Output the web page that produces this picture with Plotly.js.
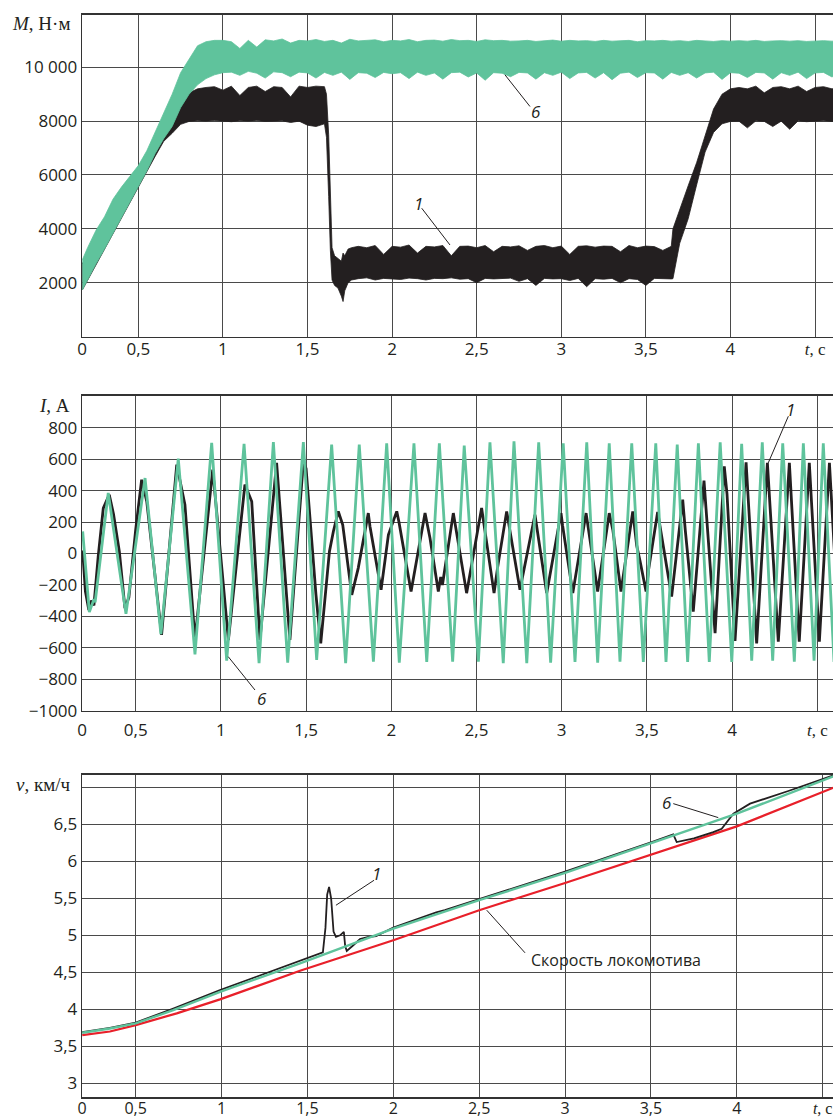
<!DOCTYPE html>
<html><head><meta charset="utf-8">
<script src="https://cdn.plot.ly/plotly-3.0.1.min.js"></script>
<style>html,body{margin:0;padding:0;background:#fff}</style>
</head><body><div id="chart" style="width:833px;height:1118px"></div>
<script>
// ---------- Panel 1: torque M, N·m (bands: lower/upper envelopes) ----------
const torqueGreenT = [0.169,0.2,0.25,0.3,0.35,0.4,0.45,0.5,0.55,0.6,0.65,0.7,0.75,0.8,0.85,0.9,0.95,1.0,
 1.05,1.1,1.15,1.2,1.25,1.3,1.35,1.4,1.45,1.5,1.55,1.6,1.65,1.7,1.75,1.8,1.85,1.9,1.95,2.0,
 2.05,2.1,2.15,2.2,2.25,2.3,2.35,2.4,2.45,2.5,2.55,2.6,2.65,2.7,2.75,2.8,2.85,2.9,2.95,3.0,
 3.05,3.1,3.15,3.2,3.25,3.3,3.35,3.4,3.45,3.5,3.55,3.6,3.65,3.7,3.75,3.8,3.85,3.9,3.95,4.0,
 4.05,4.1,4.15,4.2,4.25,4.3,4.35,4.4,4.45,4.5,4.55,4.6,4.65];
const torqueGreenUpper = [2850,3300,3950,4450,5100,5550,5950,6350,6900,7600,8300,9000,9800,10300,10800,10950,11000,11000,
 10950,10700,11000,10750,11020,10980,11050,10900,11000,10980,
 11030,10960,11000,10900,11040,10980,11000,11020,10950,11000,
 10980,11030,10950,11000,11010,10970,11030,10990,11000,10960,
 11020,10990,11000,10970,10980,11000,10960,10990,11010,10970,
 11000,10980,10990,10960,11000,10970,10990,11000,10950,10990,
 10980,11000,10970,10990,10960,11000,10980,10960,10990,10970,
 10990,10970,11000,10960,10980,10990,10970,10990,10960,10980,
 10990,10970,10980];
const torqueGreenLower = [1729,2100,2700,3250,3830,4420,5000,5560,6150,6800,7350,7800,8500,9000,9350,9580,9720,9800,
 9820,9700,9850,9780,9600,9830,9800,9650,9820,9790,
 9600,9810,9700,9820,9550,9800,9780,9620,9810,9760,
 9800,9580,9820,9700,9790,9560,9800,9820,9640,9790,
 9520,9800,9780,9650,9810,9790,9560,9800,9700,9820,
 9580,9790,9810,9600,9800,9540,9780,9820,9620,9800,
 9790,9560,9810,9700,9800,9600,9790,9820,9550,9800,
 9780,9620,9810,9790,9560,9800,9700,9820,9580,9790,
 9810,9640,9800];

const torqueBlackT = [0.169,0.2,0.25,0.3,0.35,0.4,0.45,0.5,0.55,0.6,0.65,0.7,0.75,0.8,
 0.85,0.9,0.95,1.0,1.05,1.1,1.15,1.2,1.25,1.3,1.35,1.4,1.45,1.5,1.55,1.6,
 1.612,1.625,1.635,1.645,1.66,1.68,1.7,1.71,1.72,1.74,1.76,
 1.8,1.85,1.9,1.95,2.0,2.05,2.1,2.15,2.2,2.25,2.3,2.35,2.4,2.45,2.5,2.55,2.6,2.65,2.7,2.75,
 2.8,2.85,2.9,2.95,3.0,3.05,3.1,3.15,3.2,3.25,3.3,3.35,3.4,3.45,3.5,3.55,3.6,3.65,
 3.66,3.7,3.75,3.8,3.85,3.9,3.95,4.0,
 4.05,4.1,4.15,4.2,4.25,4.3,4.35,4.4,4.45,4.5,4.55,4.6,4.65];
const torqueBlackLower = [1729,2088,2666,3245,3823,4401,4980,5558,6130,6700,7250,7550,7880,7990,
 8010,8000,8020,8000,7980,8010,8000,8020,7990,8000,8010,7950,8000,7850,7800,7900,
 7400,5200,3200,2100,1900,1800,1500,1300,1700,2000,2100,
 2150,2180,2100,2160,2150,2120,2170,2150,2100,2160,
 2150,2180,2130,2150,2000,2160,2140,2150,2170,2050,
 2150,1900,2160,2140,2150,2080,2160,1850,2150,2130,
 2160,2000,2150,2120,1900,2160,2150,2140,
 2150,3465,4375,5630,6850,7580,7900,7990,
 8000,7750,8010,7990,7800,8000,7700,8010,7980,8000,8010,7990,8000];
const torqueBlackUpper = [2700,3100,3650,4150,4800,5250,5650,6050,6600,7300,8000,8650,8900,9050,
 9200,9250,9280,9150,9300,8950,9250,9300,9100,9280,9250,8900,9300,9250,9300,9280,
 9000,7500,5000,3300,3000,2900,2800,3100,3000,3250,3300,
 3350,3300,3380,3050,3350,3320,3400,3100,3350,3330,
 3380,3000,3350,3360,3300,3380,3150,3350,3330,3370,
 3200,3350,3380,3300,3360,3050,3350,3370,3320,3360,
 3350,3150,3380,3300,3360,3340,3200,3350,
 4000,4740,5600,6460,7430,8450,9000,9200,
 9250,9200,9300,9050,9250,9280,9200,9300,9100,9250,9280,9200,9250];

// ---------- Panel 2: current I, A (turning points) ----------
const currentGreenT = [0.189,0.228,0.255,0.262,0.339,0.443,0.555,0.648,0.750,0.848,0.946,1.034,1.136,1.224,1.308,1.392,1.484,
 1.562,1.650,1.732,1.812,1.895,1.973,2.047,2.133,2.208,2.282,2.360,2.428,2.511,2.579,2.657,2.720,2.795,2.865,2.935,3.009,
 3.078,3.147,3.211,3.279,3.342,3.411,3.479,3.552,3.612,3.678,3.739,3.802,3.866,3.930,3.998,4.056,4.115,4.177,4.238,4.297,
 4.365,4.418,4.481,4.535,4.598];
const currentGreen = [140,-373,-290,-310,385,-384,480,-513,603,-641,703,-681,697,-698,709,-694,709,
 -677,692,-698,692,-688,700,-694,700,-690,700,-688,686,-688,707,-698,714,-698,707,-694,700,
 -690,707,-694,700,-688,700,-690,700,-690,692,-690,700,-690,707,-690,697,-681,707,-681,700,
 -688,700,-681,700,-690];
const currentBlackT = [0.189,0.205,0.225,0.24,0.255,0.28,0.31,0.345,0.37,0.404,0.437,0.46,0.50,0.535,0.565,0.652,0.741,0.789,
 0.848,0.952,0.975,1.044,1.141,1.181,1.229,1.327,1.405,1.484,1.50,1.558,1.586,1.621,1.637,1.660,1.689,1.715,1.728,
 1.768,1.806,1.865,1.875,1.940,1.983,2.032,2.045,2.116,2.198,2.227,2.276,2.29,2.30,2.364,2.442,2.50,2.530,2.603,2.625,
 2.677,2.69,2.755,2.843,2.912,2.996,3.005,3.065,3.08,3.143,3.211,3.279,3.30,3.348,3.417,3.44,3.46,3.495,3.51,3.563,
 3.645,3.710,3.725,3.772,3.835,3.900,3.954,3.97,4.017,4.082,4.144,4.207,4.271,4.336,4.394,4.453,4.512,4.571,4.63];
const currentBlack = [20,-240,-360,-300,-330,-20,289,374,250,13,-348,-280,150,469,331,-518,565,310,
 -550,533,268,-550,438,331,-550,576,-550,586,540,-263,-571,-199,13,140,268,183,76,
 -263,-93,257,172,-231,119,268,200,-242,257,98,-242,-150,-200,257,-252,100,289,-252,-80,
 268,180,-231,246,-252,257,180,-252,-150,257,-242,257,150,-242,268,50,-50,-242,-100,264,
 -274,342,150,-369,463,-507,554,380,-556,580,-571,576,-560,576,-560,576,-560,576,-560];

// ---------- Panel 3: speed v, km/h ----------
const speedRedT = [0.189,0.35,0.5,0.739,0.991,1.457,2.0,2.5,3.0,3.5,4.0,4.562];
const speedRed  = [3.652,3.70,3.787,3.945,4.134,4.52,4.934,5.339,5.707,6.09,6.472,6.995];
const speedGreenT = [0.189,0.35,0.5,0.719,0.991,1.457,2.0,2.5,3.0,3.5,4.0,4.562];
const speedGreen  = [3.683,3.74,3.81,3.989,4.236,4.62,5.09,5.474,5.842,6.239,6.644,7.147];
const speedBlackT = [0.189,0.35,0.5,0.719,0.991,1.457,1.544,1.59,1.605,1.615,1.626,1.638,1.652,1.666,1.69,1.712,1.72,1.729,
 1.767,1.806,1.85,1.9,2.0,2.25,2.3,2.5,3.0,3.5,3.630,3.650,3.75,3.863,3.912,3.98,4.077,4.3,4.562];
const speedBlack  = [3.69,3.75,3.82,4.01,4.259,4.664,4.73,4.77,5.1,5.55,5.653,5.5,5.05,4.98,5.0,5.046,4.85,4.79,
 4.866,4.95,4.975,4.99,5.105,5.31,5.34,5.49,5.86,6.255,6.364,6.26,6.31,6.395,6.44,6.644,6.779,6.95,7.16];

// ---------- Tick labels ----------
const tTickVals = [0.5,1,1.5,2,2.5,3,3.5,4,4.5];
const tTickText = ['0,5','1','1,5','2','2,5','3','3,5','4','<span style="font-family:Liberation Serif"><i>t</i>, с</span>'];
const mTickVals = [2000,4000,6000,8000,10000];
const mTickText = ['2000','4000','6000','8000','10 000'];
const iTickVals = [-1000,-800,-600,-400,-200,0,200,400,600,800];
const iTickText = ['−1000','−800','−600','−400','−200','0','200','400','600','800'];
const vTickVals = [3,3.5,4,4.5,5,5.5,6,6.5,7];
const vTickText = ['3','3,5','4','4,5','5','5,5','6','6,5',''];

const GREEN = '#5fc39c', BLACK = '#231f20', RED = '#e8202a';
const SANS = 'Open Sans, sans-serif', SERIF = 'Liberation Serif, serif';

function band(t, lo, up, color, xa, ya) {
  return {type:'scatter', mode:'lines', x: t.concat(t.slice().reverse()), y: up.concat(lo.slice().reverse()),
    fill:'toself', fillcolor: color, line:{color: color, width:0.8}, xaxis: xa, yaxis: ya, hoverinfo:'skip', showlegend:false};
}
function line(t, v, color, w, xa, ya) {
  return {type:'scatter', mode:'lines', x:t, y:v, line:{color:color, width:w}, xaxis:xa, yaxis:ya, hoverinfo:'skip', showlegend:false};
}

const data = [
  band(torqueBlackT, torqueBlackLower, torqueBlackUpper, BLACK, 'x', 'y'),
  band(torqueGreenT, torqueGreenLower, torqueGreenUpper, GREEN, 'x', 'y'),
  line(currentBlackT, currentBlack, BLACK, 2.8, 'x2', 'y2'),
  line(currentGreenT, currentGreen, GREEN, 2.8, 'x2', 'y2'),
  line(speedRedT, speedRed, RED, 2.2, 'x3', 'y3'),
  line(speedBlackT, speedBlack, BLACK, 1.8, 'x3', 'y3'),
  line(speedGreenT, speedGreen, GREEN, 2.4, 'x3', 'y3')
];

const base = {showline:true, linecolor:'#333', linewidth:1.3, mirror:true, showgrid:true, gridcolor:'#4a4a4a', gridwidth:1,
  zeroline:false, ticks:'', tickmode:'array', ticklabeloverflow:'allow', tickfont:{family:SANS, size:17, color:BLACK}, fixedrange:true};
function xax(anchor, r0, r1, standoff, fsize) {
  return Object.assign({}, base, {anchor:anchor, domain:[0,1], range:[r0,r1], ticklabelstandoff:standoff,
    tickfont:{family:SANS, size:fsize, color:BLACK},
    tickvals:[r0].concat(tTickVals), ticktext:['0'].concat(tTickText)});
}

const layout = {
  width:833, height:1118, margin:{l:82, r:0, t:0, b:0}, paper_bgcolor:'#fff', plot_bgcolor:'#fff', showlegend:false,
  xaxis: xax('y', 0.167, 4.606, -3, 17),
  yaxis: Object.assign({}, base, {anchor:'x', domain:[0.69897,0.98685], range:[0,11953], tickvals:mTickVals, ticktext:mTickText}),
  xaxis2: xax('y2', 0.185, 4.592, 3, 17),
  yaxis2: Object.assign({}, base, {anchor:'x2', domain:[0.36404,0.64606], range:[-1001.6,1003.5], tickvals:iTickVals, ticktext:iTickText}),
  xaxis3: xax('y3', 0.1875, 4.56, -4, 16),
  yaxis3: Object.assign({}, base, {anchor:'x3', domain:[0.018515,0.307066], range:[2.811,7.170], tickvals:vTickVals, ticktext:vTickText}),
  shapes: [
    {type:'line', xref:'x', yref:'y', x0:2.667, y0:9721, x1:2.815, y1:8543, line:{color:BLACK, width:1}},
    {type:'line', xref:'x', yref:'y', x0:2.342, y0:3401, x1:2.175, y1:4766, line:{color:BLACK, width:1}},
    {type:'line', xref:'x2', yref:'y2', x0:1.043, y0:-656, x1:1.200, y1:-868, line:{color:BLACK, width:1}},
    {type:'line', xref:'x2', yref:'y2', x0:4.212, y0:576, x1:4.330, y1:873, line:{color:BLACK, width:1}},
    {type:'line', xref:'x3', yref:'y3', x0:1.666, y0:5.406, x1:1.888, y1:5.744, line:{color:BLACK, width:1}},
    {type:'line', xref:'x3', yref:'y3', x0:3.892, y0:6.59, x1:3.630, y1:6.779, line:{color:BLACK, width:1}},
    {type:'line', xref:'x3', yref:'y3', x0:2.544, y0:5.339, x1:2.767, y1:4.763, line:{color:BLACK, width:1}}
  ],
  annotations: [
    {xref:'paper', yref:'paper', x:-0.0133, y:0.9794, xanchor:'right', yanchor:'middle', showarrow:false,
      text:'<i>M</i>, Н·м', font:{family:SERIF, size:19, color:BLACK}},
    {xref:'paper', yref:'paper', x:-0.0133, y:0.6377, xanchor:'right', yanchor:'middle', showarrow:false,
      text:'<i>I</i>, А', font:{family:SERIF, size:19, color:BLACK}},
    {xref:'paper', yref:'paper', x:-0.0133, y:0.2979, xanchor:'right', yanchor:'middle', showarrow:false,
      text:'<i>v</i>, км/ч', font:{family:SERIF, size:19, color:BLACK}},
    {xref:'x', yref:'y', x:2.850, y:8346, showarrow:false, text:'<i>6</i>', font:{family:SANS, size:17, color:BLACK}},
    {xref:'x', yref:'y', x:2.155, y:4952, showarrow:false, text:'<i>1</i>', font:{family:SANS, size:17, color:BLACK}},
    {xref:'x2', yref:'y2', x:1.239, y:-921, showarrow:false, text:'<i>6</i>', font:{family:SANS, size:17, color:BLACK}},
    {xref:'x2', yref:'y2', x:4.34, y:915, showarrow:false, text:'<i>1</i>', font:{family:SANS, size:17, color:BLACK}},
    {xref:'x3', yref:'y3', x:1.903, y:5.834, showarrow:false, text:'<i>1</i>', font:{family:SANS, size:17, color:BLACK}},
    {xref:'x3', yref:'y3', x:3.592, y:6.80, showarrow:false, text:'<i>6</i>', font:{family:SANS, size:17, color:BLACK}},
    {xref:'x3', yref:'y3', x:2.792, y:4.673, xanchor:'left', yanchor:'middle', showarrow:false, text:'Скорость локомотива',
      font:{family:SANS, size:16, color:BLACK}}
  ]
};

Plotly.newPlot('chart', data, layout, {staticPlot:true, displayModeBar:false});
</script></body></html>
